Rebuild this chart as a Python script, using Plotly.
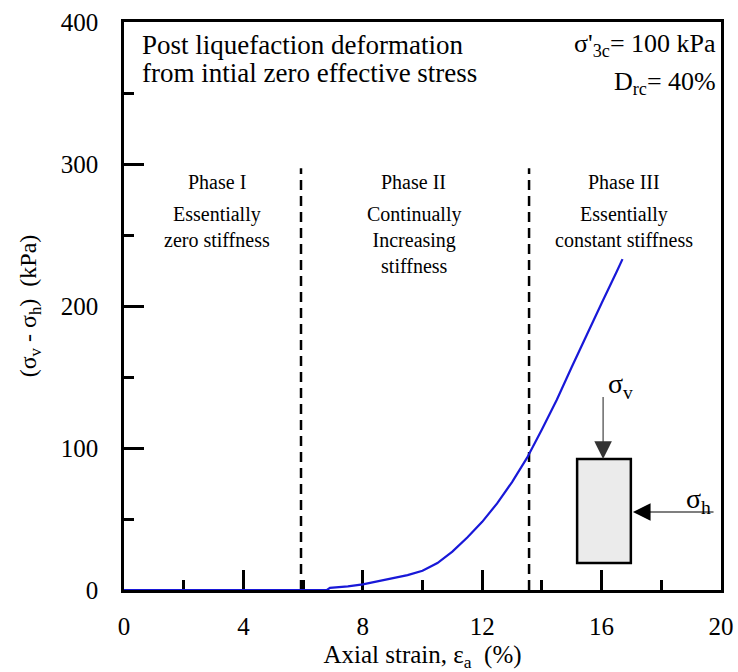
import plotly.graph_objects as go

# ---- data ----
strain = [0, 2, 4, 6, 6.8, 6.9, 7.5, 8.0, 8.6, 9.0, 9.5, 10.0, 10.5, 11.0, 11.5,
          12.0, 12.5, 13.0, 13.5, 14.0, 14.5, 15.0, 15.5, 16.0, 16.5, 16.7]
dev_stress = [0, 0, 0, 0, 0, 1.5, 2.5, 4.0, 6.5, 8.0, 10.5, 13.5, 19, 27, 37,
              48, 61, 76, 93, 113, 134, 157, 180, 202, 224, 233]
phase_bounds = [5.93, 13.57]
phase_top = 297
x_ticks = [0, 4, 8, 12, 16, 20]
y_ticks = [0, 100, 200, 300, 400]

SERIF = "Liberation Serif"

fig = go.Figure()

# phase boundaries (dashed)
for xb in phase_bounds:
    fig.add_trace(go.Scatter(x=[xb, xb], y=[0, phase_top], mode="lines",
                             line=dict(color="black", width=2.5, dash="10px,6px"),
                             showlegend=False, hoverinfo="skip"))

fig.add_trace(go.Scatter(x=strain, y=dev_stress, mode="lines",
                         line=dict(color="#1818d8", width=2.2),
                         cliponaxis=False, showlegend=False))

axis_common = dict(showline=True, linecolor="black", linewidth=2.5, mirror=True,
                   ticks="inside", ticklen=20, tickwidth=2.5, tickcolor="black",
                   showgrid=False, zeroline=False, layer="below traces", automargin=False,
                   tickfont=dict(family=SERIF, size=25, color="black"))

fig.update_xaxes(range=[0, 20], tickvals=x_ticks,
                 minor=dict(dtick=2, ticklen=10, tickwidth=2.5, ticks="inside", tickcolor="black"),
                 ticklabelstandoff=12,
                 title=dict(text="Axial strain, ε<sub>a</sub>  (%)", standoff=8,
                            font=dict(family=SERIF, size=25, color="black")),
                 **axis_common)
fig.update_yaxes(range=[0, 400], tickvals=y_ticks,
                 minor=dict(dtick=50, ticklen=10, tickwidth=2.5, ticks="inside", tickcolor="black"),
                 ticklabelstandoff=18,
                 title=dict(text="(σ<sub>v</sub> - σ<sub>h</sub>)  (kPa)", standoff=18,
                            font=dict(family=SERIF, size=24, color="black")),
                 **axis_common)

ann = []
def txt(text, x, y, size, xanchor="center", yanchor="middle", align="center"):
    ann.append(dict(text=text, x=x, y=y, xref="x", yref="y", showarrow=False,
                    xanchor=xanchor, yanchor=yanchor, align=align,
                    font=dict(family=SERIF, size=size, color="black")))

txt("Post liquefaction deformation", 0.55, 384, 27, xanchor="left")
txt("from intial zero effective stress", 0.55, 364, 27, xanchor="left")
txt("σ'<sub>3c</sub>= 100 kPa", 19.9, 384, 26, xanchor="right")
txt("D<sub>rc</sub>= 40%", 19.9, 357, 26, xanchor="right")

txt("Phase I", 3.1, 287, 20)
txt("Phase II", 9.7, 287, 20)
txt("Phase III", 16.75, 287, 20)
txt("Essentially<br>zero stiffness", 3.1, 274, 20, yanchor="top")
txt("Continually<br>Increasing<br>stiffness", 9.7, 274, 20, yanchor="top")
txt("Essentially<br>constant stiffness", 16.75, 274, 20, yanchor="top")

txt("σ<sub>v</sub>", 16.15, 144, 28, xanchor="left")
txt("σ<sub>h</sub>", 18.75, 63, 28, xanchor="left")

# load arrows
ann.append(dict(x=16.05, y=92.3, ax=16.05, ay=137, xref="x", yref="y", axref="x", ayref="y",
                showarrow=True, arrowhead=2, arrowsize=3.2, arrowwidth=1.1,
                arrowcolor="#333333", text=""))
ann.append(dict(x=17.05, y=54.9, ax=19.8, ay=54.9, xref="x", yref="y", axref="x", ayref="y",
                showarrow=True, arrowhead=2, arrowsize=3.2, arrowwidth=1.1,
                arrowcolor="black", text=""))

fig.update_layout(
    template="none",
    width=738, height=672,
    margin=dict(l=124, r=17, t=22, b=82),
    plot_bgcolor="white", paper_bgcolor="white",
    font=dict(family=SERIF, color="black"),
    annotations=ann,
    shapes=[dict(type="rect", xref="x", yref="y", x0=15.18, x1=16.98, y0=19, y1=92.3,
                 fillcolor="#ebebeb", line=dict(color="black", width=2.5), layer="above")],
)

fig.write_html("out.html")
